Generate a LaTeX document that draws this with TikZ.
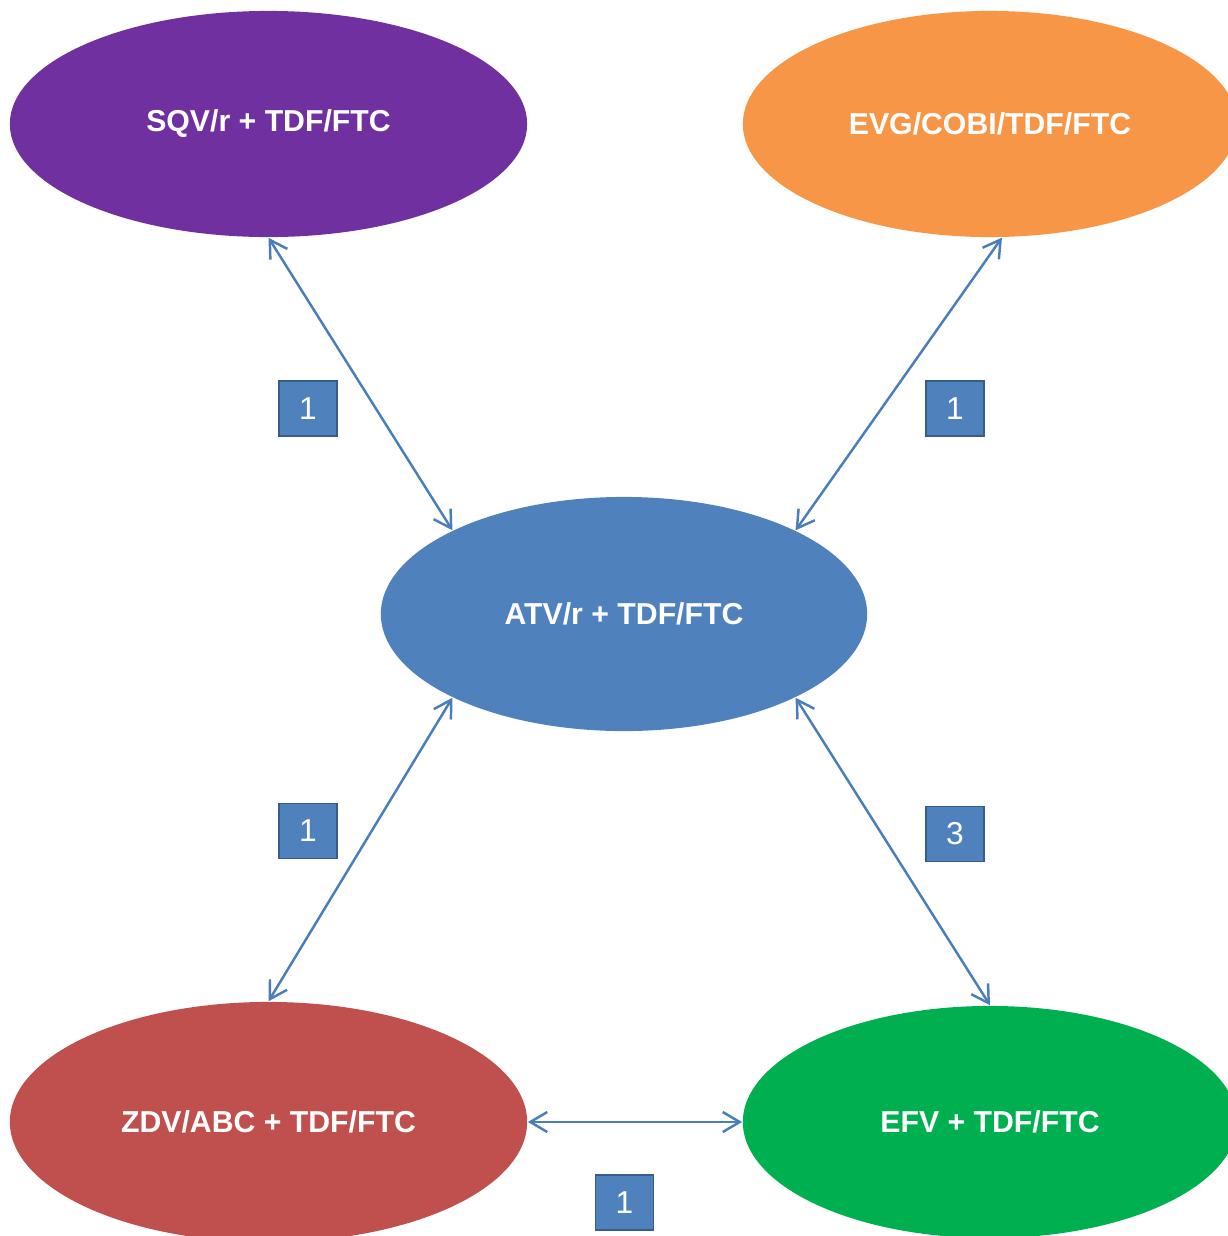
\documentclass[tikz,border=0pt]{standalone}
\usepackage{fontspec}
\setmainfont{Liberation Sans}
\usetikzlibrary{shapes.geometric,arrows.meta}

\definecolor{sqvcol}{HTML}{7030A0}
\definecolor{evgcol}{HTML}{F79646}
\definecolor{atvcol}{HTML}{4F81BD}
\definecolor{zdvcol}{HTML}{C0504D}
\definecolor{efvcol}{HTML}{00B050}
\definecolor{linkcol}{HTML}{4A7EBB}
\definecolor{boxline}{HTML}{385D8A}

\begin{document}
\begin{tikzpicture}[x=0.01cm,y=-0.01cm,
	regimen/.style={ellipse,draw=none,inner sep=0pt,text=white,
		font=\fontsize{8.6}{10}\selectfont\bfseries},
	count/.style={rectangle,fill=atvcol,draw=boxline,line width=0.4pt,
		minimum width=0.58cm,minimum height=0.55cm,inner sep=0pt,text=white,
		font=\fontsize{9}{10}\selectfont},
	link/.style={draw=linkcol,line width=0.7pt,
		{Straight Barb[length=1.7mm,width=2mm]}-{Straight Barb[length=1.7mm,width=2mm]}}]
	
	\path[use as bounding box,clip] (0,0) rectangle (1228,1236);
	\fill[white] (0,0) rectangle (1228,1236);
	
	%Regime
	\node[regimen,fill=sqvcol,minimum width=5.17cm,minimum height=2.26cm] (sqv) at (268.5,124) {SQV/r + TDF/FTC};
	\node[regimen,fill=evgcol,minimum width=4.94cm,minimum height=2.26cm] (evg) at (990,124) {EVG/COBI/TDF/FTC};
	\node[regimen,fill=atvcol,minimum width=4.86cm,minimum height=2.34cm] (atv) at (624,614) {ATV/r + TDF/FTC};
	\node[regimen,fill=zdvcol,minimum width=5.17cm,minimum height=2.40cm] (zdv) at (268.5,1122) {ZDV/ABC + TDF/FTC};
	\node[regimen,fill=efvcol,minimum width=4.94cm,minimum height=2.32cm] (efv) at (990,1122) {EFV + TDF/FTC};
	
	%Verbindungen
	\draw[link] (sqv.south) -- (atv.154);
	\draw[link] (evg.-84) -- (atv.26);
	\draw[link] (atv.206) -- (zdv.north);
	\draw[link] (atv.-26) -- (efv.north);
	\draw[link] (zdv.east) -- (efv.west);
	
	%Anzahl
	\node[count] (n1) at (308,408.5) {1};
	\node[count] (n2) at (955,408.5) {1};
	\node[count] (n3) at (308,831) {1};
	\node[count] (n4) at (955,834) {3};
	\node[count] (n5) at (624.5,1202.5) {1};
	
\end{tikzpicture}
\end{document}
